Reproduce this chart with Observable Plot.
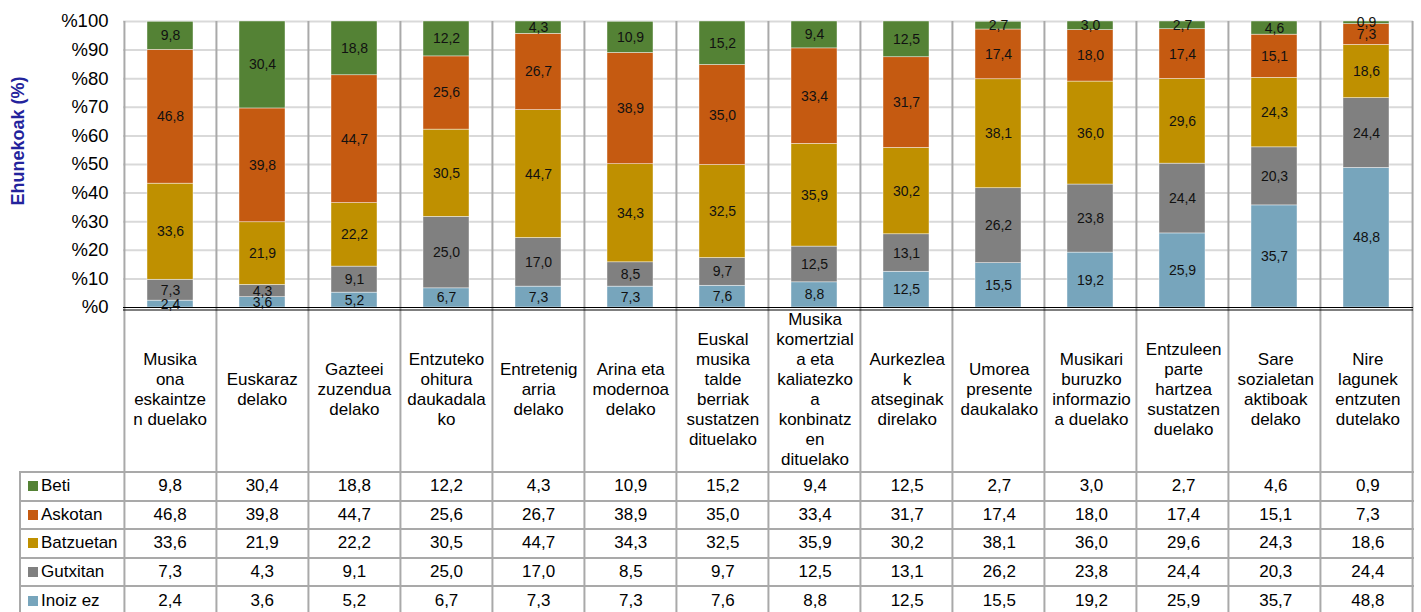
<!DOCTYPE html>
<html><head><meta charset="utf-8">
<script src="https://cdn.jsdelivr.net/npm/d3@7"></script>
<script src="https://cdn.jsdelivr.net/npm/@observablehq/plot@0.6"></script>
<style>
body{margin:0;background:#fff;font-family:"Liberation Sans",Arial,sans-serif;}
#wrap{position:relative;width:1421px;height:612px;overflow:hidden;background:#fff;}
#chart{position:absolute;left:0;top:0;}
#ytitle{position:absolute;left:18px;top:141px;transform:translate(-50%,-50%) rotate(-90deg);font-weight:bold;font-size:18px;color:#23239c;white-space:nowrap;}
#tbl{position:absolute;left:19px;top:309px;border-collapse:collapse;table-layout:fixed;width:1394px;font-size:17px;}
#tbl td{padding:0;text-align:center;color:#000;box-sizing:border-box;}
#tbl tr.lab td{height:163px;line-height:20px;vertical-align:middle;}
#tbl tr.val td{height:28.5px;border-top:2px solid #a9a9a9;line-height:20px;}
#tbl tr.val td.leg{text-align:left;border-left:2px solid #a9a9a9;padding-left:7px;}
.sw{display:inline-block;width:10px;height:10px;margin-right:3px;}
</style></head>
<body>
<div id="wrap">
  <div id="chart"></div>
  <div id="ytitle">Ehunekoak (%)</div>
  <table id="tbl"></table>
</div>
<script>
const categories = [
  "Musika ona eskaintzen duelako","Euskaraz delako","Gazteei zuzendua delako",
  "Entzuteko ohitura daukadalako","Entretenigarria delako","Arina eta modernoa delako",
  "Euskal musika talde berriak sustatzen dituelako","Musika komertziala eta kaliatezkoa konbinatzen dituelako",
  "Aurkezleak atseginak direlako","Umorea presente daukalako","Musikari buruzko informazioa duelako",
  "Entzuleen parte hartzea sustatzen duelako","Sare sozialetan aktiboak delako","Nire lagunek entzuten dutelako"
];
const categoryLines = [
  ["Musika","ona","eskaintze","n duelako"],
  ["Euskaraz","delako"],
  ["Gazteei","zuzendua","delako"],
  ["Entzuteko","ohitura","daukadala","ko"],
  ["Entretenig","arria","delako"],
  ["Arina eta","modernoa","delako"],
  ["Euskal","musika","talde","berriak","sustatzen","dituelako"],
  ["Musika","komertzial","a eta","kaliatezko","a","konbinatz","en","dituelako"],
  ["Aurkezlea","k","atseginak","direlako"],
  ["Umorea","presente","daukalako"],
  ["Musikari","buruzko","informazio","a duelako"],
  ["Entzuleen","parte","hartzea","sustatzen","duelako"],
  ["Sare","sozialetan","aktiboak","delako"],
  ["Nire","lagunek","entzuten","dutelako"]
];
const series = ["Beti","Askotan","Batzuetan","Gutxitan","Inoiz ez"];
const seriesColors = ["#548235","#c55a11","#bf9000","#808080","#77a5bc"];
const beti      = [9.8,30.4,18.8,12.2,4.3,10.9,15.2,9.4,12.5,2.7,3.0,2.7,4.6,0.9];
const askotan   = [46.8,39.8,44.7,25.6,26.7,38.9,35.0,33.4,31.7,17.4,18.0,17.4,15.1,7.3];
const batzuetan = [33.6,21.9,22.2,30.5,44.7,34.3,32.5,35.9,30.2,38.1,36.0,29.6,24.3,18.6];
const gutxitan  = [7.3,4.3,9.1,25.0,17.0,8.5,9.7,12.5,13.1,26.2,23.8,24.4,20.3,24.4];
const inoizEz   = [2.4,3.6,5.2,6.7,7.3,7.3,7.6,8.8,12.5,15.5,19.2,25.9,35.7,48.8];
const yTicks = [0,10,20,30,40,50,60,70,80,90,100];

const valuesBySeries = {"Beti":beti,"Askotan":askotan,"Batzuetan":batzuetan,"Gutxitan":gutxitan,"Inoiz ez":inoizEz};
const stackOrder = series.slice().reverse();
const rows = [];
for (const s of stackOrder) categories.forEach((c,i) => rows.push({category:c, series:s, value:valuesBySeries[s][i]}));
const fmt = v => v.toFixed(1).replace(".", ",");

const W = 1421, H = 612, mL = 123, mR = 8, mT = 21, mB = 305;
const step = (W - mL - mR) / categories.length;

const chart = Plot.plot({
  width: W, height: H, marginTop: mT, marginBottom: mB, marginLeft: mL, marginRight: mR,
  style: {fontFamily: "'Liberation Sans', Arial, sans-serif", fontSize: "14px", background: "transparent"},
  x: {domain: categories, paddingInner: 0.5, paddingOuter: 0.25, axis: null},
  y: {domain: [0,100]},
  color: {domain: series, range: seriesColors},
  marks: [
    Plot.ruleY(yTicks.slice(1), {stroke: "#d9d9d9", strokeWidth: 2}),
    Plot.ruleX(categories, {x: d => d, dx: -step/2, stroke: "#a9a9a9", strokeWidth: 2, insetBottom: -mB}),
    Plot.ruleX(categories.slice(-1), {x: d => d, dx: step/2, stroke: "#a9a9a9", strokeWidth: 2, insetBottom: -mB}),
    Plot.barY(rows, Plot.stackY({x: "category", y: "value", fill: "series", z: "series", stroke: "#fff", strokeWidth: 0.6, strokeOpacity: 0.7})),
    Plot.text(rows, Plot.stackY({x: "category", y: "value", z: "series", text: d => fmt(d.value), fill: "#111", fontSize: 14})),
    Plot.ruleY([0], {stroke: "#000", strokeWidth: 1}),
    Plot.ruleY([0], {stroke: "#000", strokeWidth: 1, dy: 2.5}),
    Plot.axisY(yTicks, {tickSize: 0, tickPadding: 15, fontSize: 18.5, fill: "#000", tickFormat: d => "%" + d, label: null})
  ]
});
document.getElementById("chart").appendChild(chart);

// data table
const tbl = document.getElementById("tbl");
const cg = document.createElement("colgroup");
const c0 = document.createElement("col"); c0.style.width = (mL - 19) + "px"; cg.appendChild(c0);
categories.forEach(() => { const c = document.createElement("col"); c.style.width = step + "px"; cg.appendChild(c); });
tbl.appendChild(cg);
const labRow = document.createElement("tr"); labRow.className = "lab";
labRow.appendChild(document.createElement("td"));
categoryLines.forEach(lines => {
  const td = document.createElement("td");
  lines.forEach((l, k) => { if (k) td.appendChild(document.createElement("br")); td.appendChild(document.createTextNode(l)); });
  labRow.appendChild(td);
});
tbl.appendChild(labRow);
series.forEach((s, si) => {
  const tr = document.createElement("tr"); tr.className = "val";
  const td0 = document.createElement("td"); td0.className = "leg";
  const sw = document.createElement("span"); sw.className = "sw"; sw.style.background = seriesColors[si];
  td0.appendChild(sw); td0.appendChild(document.createTextNode(s));
  tr.appendChild(td0);
  valuesBySeries[s].forEach(v => { const td = document.createElement("td"); td.textContent = fmt(v); tr.appendChild(td); });
  tbl.appendChild(tr);
});
</script>
</body></html>
